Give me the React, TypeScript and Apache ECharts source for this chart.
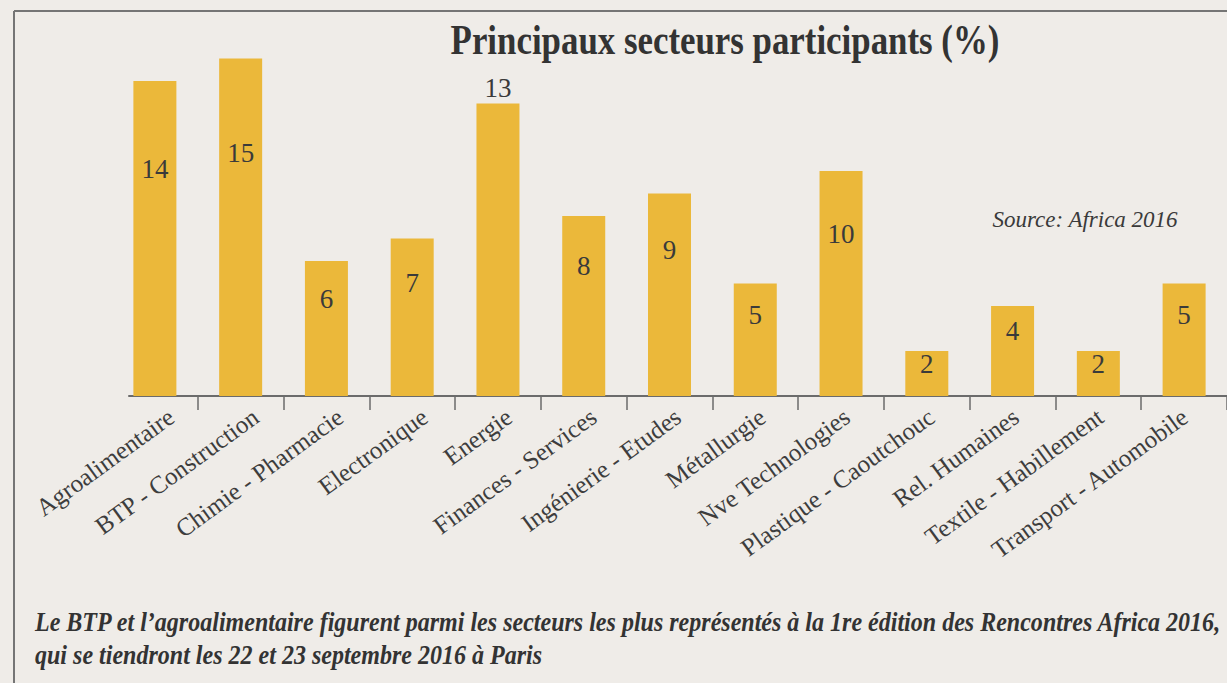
import React, { useEffect, useRef } from "react";
import * as echarts from "echarts";

const categories = [
  "Agroalimentaire",
  "BTP - Construction",
  "Chimie - Pharmacie",
  "Electronique",
  "Energie",
  "Finances - Services",
  "Ingénierie - Etudes",
  "Métallurgie",
  "Nve Technologies",
  "Plastique - Caoutchouc",
  "Rel. Humaines",
  "Textile - Habillement",
  "Transport - Automobile",
];
const values = [14, 15, 6, 7, 13, 8, 9, 5, 10, 2, 4, 2, 5];
const labelAbove = ["Energie"];

const titleText = "Principaux secteurs participants (%)";
const sourceText = "Source: Africa 2016";
const captionLines = [
  "Le BTP et l’agroalimentaire figurent parmi les secteurs les plus représentés à la 1re édition des Rencontres Africa 2016,",
  "qui se tiendront les 22 et 23 septembre 2016 à Paris",
];

const SERIF = "Liberation Serif";

export default function App() {
  const ref = useRef<HTMLDivElement>(null);
  useEffect(() => {
    if (!ref.current) return;
    const chart = echarts.init(ref.current, null, { renderer: "svg" });
    const axisColor = "#6b6b6b";
    chart.setOption({
      animation: false,
      backgroundColor: "#efece8",
      grid: [
        { left: 112, top: 36, width: 1126, height: 360 },
        { left: 129, top: 36, width: 1126, height: 360 },
      ],
      xAxis: [
        {
          type: "category",
          gridIndex: 0,
          data: categories,
          axisLine: { show: false },
          axisTick: {
            show: true,
            length: 14,
            interval: (i: number) => i !== 0,
            lineStyle: { color: axisColor, width: 1.5 },
          },
          axisLabel: { show: false },
        },
        {
          type: "category",
          gridIndex: 1,
          data: categories,
          axisLine: { show: true, lineStyle: { color: axisColor, width: 2 } },
          axisTick: { show: false },
          axisLabel: {
            show: true,
            interval: 0,
            rotate: 36,
            margin: 18,
            fontSize: 25,
            fontFamily: SERIF,
            color: "#3d3d3d",
          },
        },
      ],
      yAxis: [
        { type: "value", gridIndex: 0, min: 0, max: 16, show: false },
        { type: "value", gridIndex: 1, min: 0, max: 16, show: false },
      ],
      series: [
        {
          type: "bar",
          xAxisIndex: 0,
          yAxisIndex: 0,
          barWidth: 43,
          data: values.map((v, i) =>
            labelAbove.includes(categories[i])
              ? {
                  value: v,
                  label: {
                    position: "top",
                    distance: 2,
                    align: "center",
                    verticalAlign: "bottom",
                  },
                }
              : v
          ),
          itemStyle: { color: "#ebb83a" },
          label: {
            show: true,
            position: ["50%", "28%"],
            align: "center",
            verticalAlign: "middle",
            fontSize: 27,
            fontFamily: SERIF,
            color: "#3a3a3a",
          },
        },
      ],
      graphic: [
        {
          type: "line",
          shape: { x1: 14, y1: 11, x2: 1227, y2: 11 },
          style: { stroke: "#757575", lineWidth: 2 },
        },
        {
          type: "line",
          shape: { x1: 14, y1: 11, x2: 14, y2: 683 },
          style: { stroke: "#757575", lineWidth: 2 },
        },
        {
          type: "text",
          x: 725,
          y: 40,
          scaleX: 0.83,
          style: {
            text: titleText,
            fontFamily: SERIF,
            fontWeight: "bold",
            fontSize: 42,
            fill: "#333333",
            align: "center",
            verticalAlign: "middle",
          },
        },
        {
          type: "text",
          x: 1085,
          y: 219,
          style: {
            text: sourceText,
            fontFamily: SERIF,
            fontStyle: "italic",
            fontSize: 23,
            fill: "#3a3a3a",
            align: "center",
            verticalAlign: "middle",
          },
        },
        {
          type: "text",
          x: 35,
          y: 622,
          scaleX: 0.89,
          style: {
            text: captionLines[0],
            fontFamily: SERIF,
            fontStyle: "italic",
            fontWeight: "bold",
            fontSize: 27,
            fill: "#333333",
            align: "left",
            verticalAlign: "middle",
          },
        },
        {
          type: "text",
          x: 35,
          y: 655,
          scaleX: 0.89,
          style: {
            text: captionLines[1],
            fontFamily: SERIF,
            fontStyle: "italic",
            fontWeight: "bold",
            fontSize: 27,
            fill: "#333333",
            align: "left",
            verticalAlign: "middle",
          },
        },
      ],
    });
    return () => chart.dispose();
  }, []);
  return (
    <div
      ref={ref}
      style={{ position: "fixed", left: 0, top: 0, width: 1227, height: 683 }}
    />
  );
}
